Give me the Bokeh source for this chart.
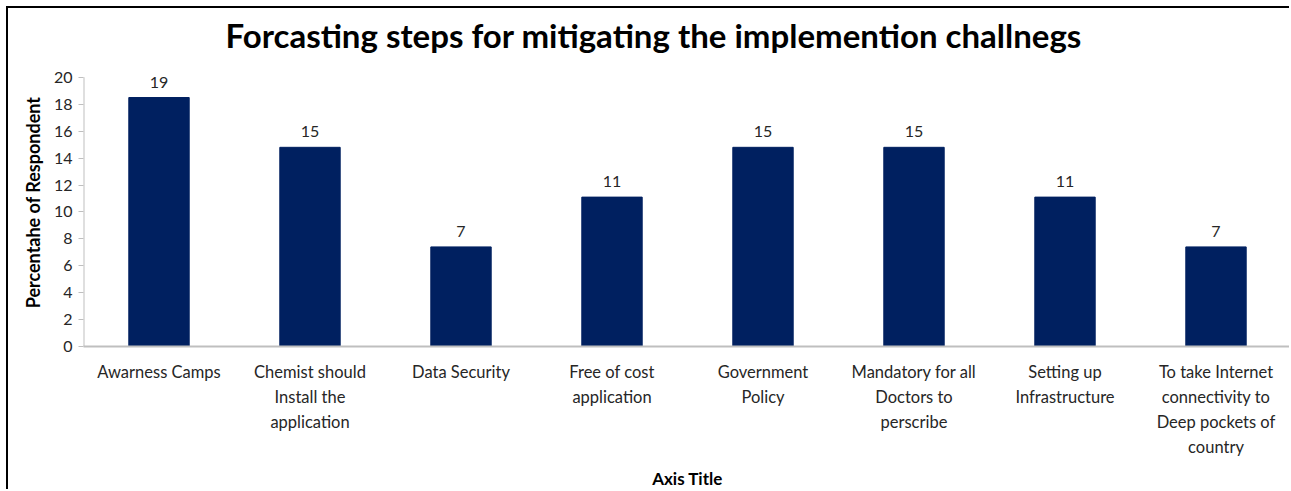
from bokeh.plotting import figure
from bokeh.models import FactorRange, ColumnDataSource, Range1d, LabelSet
from bokeh.embed import file_html
from bokeh.resources import INLINE
from bokeh.core.properties import value

categories = [
    "Awarness Camps",
    "Chemist should\nInstall the\napplication",
    "Data Security",
    "Free of cost\napplication",
    "Government\nPolicy",
    "Mandatory for all\nDoctors to\nperscribe",
    "Setting up\nInfrastructure",
    "To take Internet\nconnectivity to\nDeep pockets of\ncountry",
]
values = [18.5, 14.8, 7.4, 11.1, 14.8, 14.8, 11.1, 7.4]
labels = ["19", "15", "7", "11", "15", "15", "11", "7"]
y_ticks = [0, 2, 4, 6, 8, 10, 12, 14, 16, 18, 20]
y_max = 20

FONT = "Lato"

src = ColumnDataSource(dict(cat=categories, val=values, lab=labels))

p = figure(
    x_range=FactorRange(*categories, range_padding=0),
    y_range=Range1d(0, 21.4),
    width=1283, height=483,
    output_backend="svg", toolbar_location=None,
    title="Forcasting steps for mitigating the implemention challnegs",
    min_border_left=75, min_border_right=0, min_border_top=50, min_border_bottom=145,
)
p.styles = {"border-top": "2px solid black", "border-left": "2px solid black"}
p.margin = (6, 0, 0, 6)

p.vbar(x="cat", top="val", width=0.4, source=src, color="#002060", line_color="#002060")

# y axis line only up to the top tick
p.segment(x0=[0], y0=[0], x1=[0], y1=[y_max], line_color="#bfbfbf", line_width=2)

p.add_layout(LabelSet(x="cat", y="val", text="lab", source=src, y_offset=10,
                      text_align="center", text_baseline="bottom",
                      text_font=value(FONT), text_font_size="16px", text_color="#262626"))

p.title.align = "left"
p.title.text_font = FONT
p.title.text_font_size = "33px"
p.title.text_font_style = "bold"
p.title.text_color = "#000000"
p.title.standoff = 8
p.title.offset = 142

p.xgrid.visible = False
p.ygrid.visible = False
p.outline_line_color = None

p.yaxis.ticker = y_ticks
p.yaxis.axis_label = "Percentahe of Respondent"
p.yaxis.axis_label_text_font = FONT
p.yaxis.axis_label_text_font_size = "18px"
p.yaxis.axis_label_text_font_style = "bold"
p.yaxis.axis_label_text_color = "#000000"
p.yaxis.axis_label_standoff = 7
p.yaxis.major_label_text_font = FONT
p.yaxis.major_label_text_font_size = "16px"
p.yaxis.major_label_text_color = "#262626"
p.yaxis.axis_line_color = None
p.yaxis.major_tick_line_color = "#bfbfbf"
p.yaxis.major_tick_in = 0
p.yaxis.major_tick_out = 5
p.yaxis.minor_tick_line_color = None
p.yaxis.major_label_standoff = 6

p.xaxis.axis_label = "Axis Title"
p.xaxis.axis_label_text_font = FONT
p.xaxis.axis_label_text_font_size = "17px"
p.xaxis.axis_label_text_font_style = "bold"
p.xaxis.axis_label_text_color = "#000000"
p.xaxis.axis_label_standoff = 8
p.xaxis.major_label_text_font = FONT
p.xaxis.major_label_text_font_size = "16.5px"
p.xaxis.major_label_text_color = "#262626"
p.xaxis.major_label_text_line_height = 1.25
p.xaxis.axis_line_color = "#bfbfbf"
p.xaxis.axis_line_width = 2
p.xaxis.major_tick_line_color = None
p.xaxis.minor_tick_line_color = None
p.xaxis.major_label_standoff = 9

open("out.html", "w").write(file_html(p, INLINE))
